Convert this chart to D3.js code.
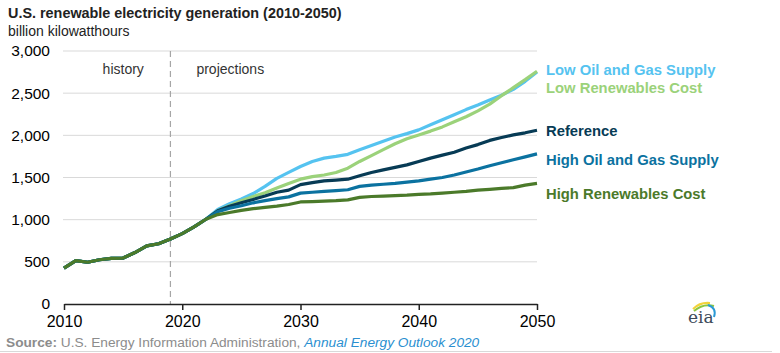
<!DOCTYPE html>
<html>
<head>
<meta charset="utf-8">
<script src="https://d3js.org/d3.v7.min.js"></script>
<style>
body { margin: 0; background: #fff; font-family: "Liberation Sans", Arial, sans-serif; }
.grid line { stroke: #d9d9d9; stroke-width: 1; }
.tick text { fill: #000; }
</style>
</head>
<body>
<div id="chart"></div>
<script>
var years = d3.range(2010, 2051);

// history 2010-2022 shared by every case
var shared = [425, 515, 495, 525, 540, 545, 610, 690, 715, 770, 835, 915, 1005];

var lowOilGas = shared.concat([1120, 1190, 1245, 1310, 1395, 1490, 1560, 1630, 1690, 1730, 1750, 1775,
  1830, 1880, 1930, 1980, 2020, 2065, 2125, 2185, 2245, 2305, 2360, 2420, 2475, 2545, 2640, 2750]);
var lowRenew = shared.concat([1105, 1165, 1225, 1275, 1320, 1375, 1430, 1480, 1510, 1530, 1560, 1610,
  1690, 1760, 1830, 1900, 1960, 2005, 2050, 2100, 2160, 2220, 2290, 2370, 2470, 2565, 2660, 2760]);
var reference = shared.concat([1105, 1160, 1200, 1240, 1280, 1325, 1350, 1415, 1440, 1460, 1470, 1480,
  1520, 1560, 1590, 1620, 1650, 1690, 1730, 1765, 1800, 1850, 1890, 1940, 1975, 2005, 2030, 2060]);
var highOilGas = shared.concat([1095, 1135, 1165, 1200, 1225, 1250, 1270, 1315, 1325, 1335, 1345, 1355,
  1395, 1410, 1420, 1430, 1445, 1460, 1480, 1500, 1530, 1565, 1600, 1640, 1675, 1710, 1745, 1780]);
var highRenew = shared.concat([1060, 1085, 1110, 1130, 1145, 1160, 1180, 1210, 1215, 1220, 1225, 1235,
  1265, 1275, 1280, 1285, 1290, 1300, 1305, 1315, 1325, 1335, 1350, 1360, 1370, 1380, 1410, 1430]);

var seriesNames = ["Low Oil and Gas Supply", "Low Renewables Cost", "Reference", "High Oil and Gas Supply", "High Renewables Cost"];
var seriesValues = [lowOilGas, lowRenew, reference, highOilGas, highRenew];
var seriesColors = ["#55c3f0", "#9bd27a", "#073b55", "#0b72a0", "#4b7a2a"];
var labelY = [70, 88, 131, 160, 194]; // label baselines, placed like the original

var xTicks = [2010, 2020, 2030, 2040, 2050];
var yTicks = [0, 500, 1000, 1500, 2000, 2500, 3000];
var lastHistoryYear = 2019;

var W = 780, H = 353;
var margin = {top: 51, left: 64, right: 243, bottom: 49};

var svg = d3.select("#chart").append("svg")
    .attr("width", W)
    .attr("height", H);

var x = d3.scaleLinear()
    .domain([2010, 2050])
    .range([margin.left, W - margin.right]);

var y = d3.scaleLinear()
    .domain([0, 3000])
    .range([H - margin.bottom, margin.top]);

// TITLE
svg.append("text")
    .attr("x", 8).attr("y", 18)
    .style("font-size", "14.4px").style("font-weight", "bold").style("fill", "#222")
    .text("U.S. renewable electricity generation (2010-2050)");

svg.append("text")
    .attr("x", 8).attr("y", 36)
    .style("font-size", "14px").style("fill", "#222")
    .text("billion kilowatthours");

// GRIDLINES
svg.append("g")
    .attr("class", "grid")
    .selectAll("line")
    .data(yTicks.filter(function(d) { return d > 0; }))
    .enter().append("line")
    .attr("x1", x(2010) - 1).attr("x2", x(2050))
    .attr("y1", function(d) { return y(d); })
    .attr("y2", function(d) { return y(d); });

// Y AXIS LABELS
var yAxis = d3.axisLeft(y)
    .tickValues(yTicks)
    .tickSize(0)
    .tickPadding(14)
    .tickFormat(d3.format(","));

svg.append("g")
    .attr("transform", "translate(" + margin.left + ",0)")
    .call(yAxis)
    .call(function(g) { g.select(".domain").remove(); })
    .selectAll("text")
    .style("font-size", "15.5px")
    .style("font-family", "Liberation Sans, Arial, sans-serif");

// HISTORY / PROJECTIONS DIVIDER
svg.append("line")
    .attr("x1", x(lastHistoryYear)).attr("x2", x(lastHistoryYear))
    .attr("y1", y(3000)).attr("y2", y(0))
    .style("stroke", "#a6a6a6")
    .style("stroke-width", 1.2)
    .style("stroke-dasharray", "6,4");

svg.append("text")
    .attr("x", (x(2010) + x(lastHistoryYear)) / 2 + 6).attr("y", 74)
    .attr("text-anchor", "middle")
    .style("font-size", "14px").style("fill", "#333")
    .text("history");

svg.append("text")
    .attr("x", x(lastHistoryYear) + 26).attr("y", 74)
    .style("font-size", "14px").style("fill", "#333")
    .text("projections");

// X AXIS
var xAxis = d3.axisBottom(x)
    .tickValues(xTicks)
    .tickSize(6)
    .tickSizeOuter(0)
    .tickPadding(6)
    .tickFormat(d3.format("d"));

var gx = svg.append("g")
    .attr("transform", "translate(0," + y(0) + ")")
    .call(xAxis);

gx.select(".domain").style("stroke", "#222").style("stroke-width", 1.5);
gx.selectAll(".tick line").style("stroke", "#222").style("stroke-width", 1.5);
gx.selectAll("text")
    .style("font-size", "16px")
    .style("font-family", "Liberation Sans, Arial, sans-serif");

// LINES
var line = d3.line()
    .x(function(d, i) { return x(years[i]); })
    .y(function(d) { return y(d); });

svg.append("g")
    .selectAll("path")
    .data(seriesValues)
    .enter().append("path")
    .attr("d", function(d) { return line(d); })
    .style("fill", "none")
    .style("stroke", function(d, i) { return seriesColors[i]; })
    .style("stroke-width", 3.2)
    .style("stroke-linejoin", "round");

// LABELS
svg.append("g")
    .selectAll("text")
    .data(seriesNames)
    .enter().append("text")
    .attr("x", x(2050) + 9)
    .attr("y", function(d, i) { return labelY[i] + 5; })
    .style("font-size", "14.8px")
    .style("font-weight", "bold")
    .style("fill", function(d, i) { return seriesColors[i]; })
    .text(function(d) { return d; });

// SOURCE
var src = svg.append("text")
    .attr("x", 6).attr("y", 347)
    .style("font-size", "13.7px");
src.append("tspan").style("font-weight", "bold").style("fill", "#8c8c8c").text("Source: ");
src.append("tspan").style("fill", "#8c8c8c").text("U.S. Energy Information Administration, ");
src.append("tspan").style("fill", "#2a8fd0").style("font-style", "italic").text("Annual Energy Outlook 2020");

svg.append("line")
    .attr("x1", 0).attr("x2", 772)
    .attr("y1", 351.5).attr("y2", 351.5)
    .style("stroke", "#d9d9d9");

// EIA LOGO
var logo = svg.append("g").attr("transform", "translate(686,300)");
logo.append("path").attr("d", "M7,9 Q14,2 24,3").style("fill", "none").style("stroke", "#f2d33a").style("stroke-width", 2);
logo.append("path").attr("d", "M8,11 Q17,3 28,6").style("fill", "none").style("stroke", "#8cc63f").style("stroke-width", 2);
logo.append("path").attr("d", "M22,5 Q31,8 28,17").style("fill", "none").style("stroke", "#2a9ad6").style("stroke-width", 2);
logo.append("text")
    .attr("x", 2).attr("y", 23)
    .style("font-family", "DejaVu Serif, Liberation Serif, serif")
    .style("font-size", "17px")
    .style("fill", "#3c4a5a")
    .text("eia");
</script>
</body>
</html>
